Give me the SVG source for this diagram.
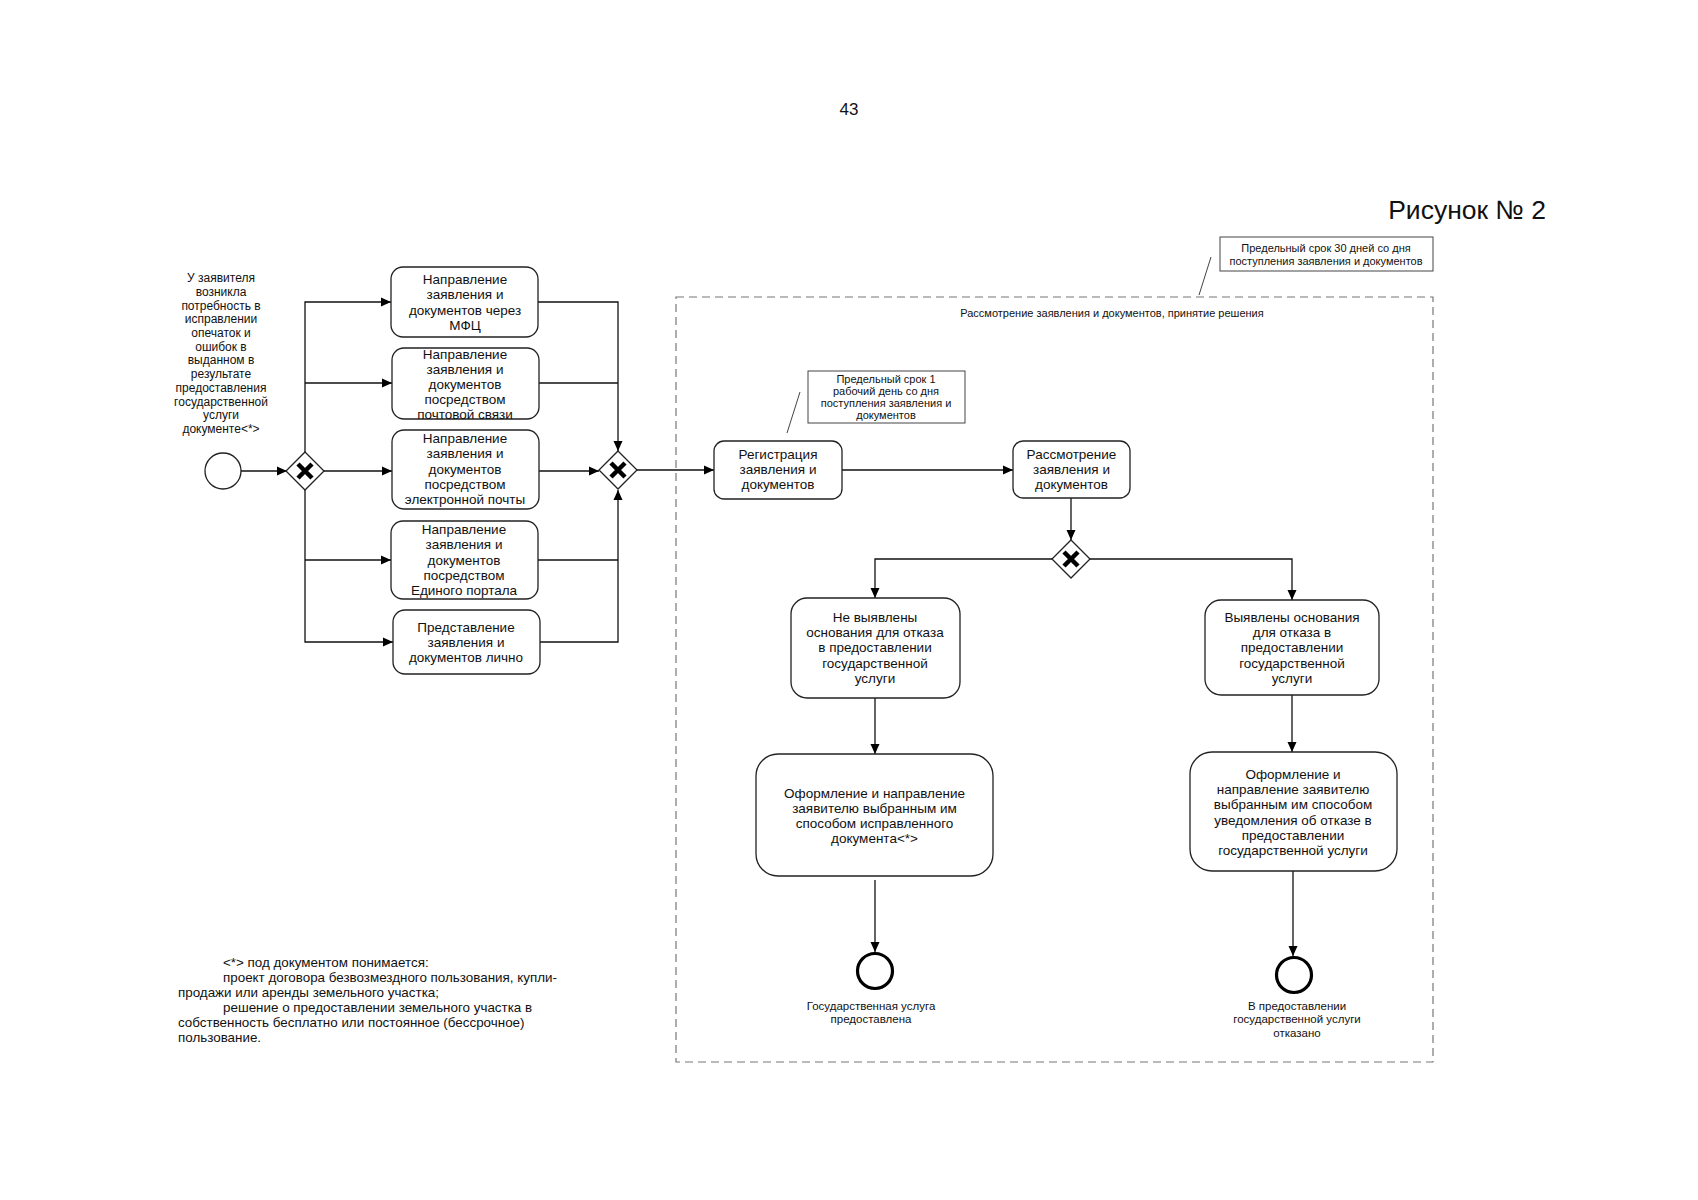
<svg xmlns="http://www.w3.org/2000/svg" width="1698" height="1200" viewBox="0 0 1698 1200">
<style>
text{font-family:"Liberation Sans",Arial,sans-serif;fill:#111}
.t{font-size:13.5px;text-anchor:middle}
.s{font-size:11px;text-anchor:middle}
.l{font-size:12px;text-anchor:middle}
.f{font-size:13.4px}
.box{fill:#fff;stroke:#222;stroke-width:1.3}
.gw{fill:#fff;stroke:#222;stroke-width:1.3}
.x{stroke:#000;stroke-width:4.5;stroke-linecap:butt}
.c{fill:none;stroke:#111;stroke-width:1.3}
.ann{fill:#fff;stroke:#444;stroke-width:1}
</style>
<defs>
<marker id="arr" viewBox="0 0 10 10" refX="10" refY="5" markerWidth="11" markerHeight="10" markerUnits="userSpaceOnUse" orient="auto"><path d="M0,0.5 L10,5 L0,9.5 z" fill="#000"/></marker>
</defs>
<rect width="1698" height="1200" fill="#fff"/>
<text x="849" y="115" style="font-size:17px;text-anchor:middle">43</text>
<text x="1546" y="219" style="font-size:26.5px;text-anchor:end">Рисунок № 2</text>

<g id="container">
<rect x="676" y="297" width="757" height="765" fill="none" stroke="#777" stroke-width="1.2" stroke-dasharray="8 5"/>
<text class="s" x="1112" y="317">Рассмотрение заявления и документов, принятие решения</text>
</g>

<g id="connectors">
<path class="c" d="M241,471 H287" marker-end="url(#arr)"/>
<path class="c" d="M305,452 V302 H391" marker-end="url(#arr)"/>
<path class="c" d="M305,383 H392" marker-end="url(#arr)"/>
<path class="c" d="M324,471 H392" marker-end="url(#arr)"/>
<path class="c" d="M305,490 V642 H393" marker-end="url(#arr)"/>
<path class="c" d="M305,560 H391" marker-end="url(#arr)"/>
<path class="c" d="M538,302 H618 V451" marker-end="url(#arr)"/>
<path class="c" d="M539,383 H618"/>
<path class="c" d="M539,471 H599" marker-end="url(#arr)"/>
<path class="c" d="M538,560 H618"/>
<path class="c" d="M540,642 H618 V490" marker-end="url(#arr)"/>
<path class="c" d="M637,470 H714" marker-end="url(#arr)"/>
<path class="c" d="M842,470 H1013" marker-end="url(#arr)"/>
<path class="c" d="M1071,498 V540" marker-end="url(#arr)"/>
<path class="c" d="M1052,559 H875 V598" marker-end="url(#arr)"/>
<path class="c" d="M1090,559 H1292 V600" marker-end="url(#arr)"/>
<path class="c" d="M875,698 V754" marker-end="url(#arr)"/>
<path class="c" d="M1292,695 V752" marker-end="url(#arr)"/>
<path class="c" d="M875,880 V952" marker-end="url(#arr)"/>
<path class="c" d="M1293,871 V956" marker-end="url(#arr)"/>
<path d="M1211,257 L1199,295" stroke="#444" stroke-width="1" fill="none"/>
<path d="M800,392 L787,433" stroke="#444" stroke-width="1" fill="none"/>
</g>

<g id="start-label">
<text class="l" x="221" y="282">У заявителя</text>
<text class="l" x="221" y="296">возникла</text>
<text class="l" x="221" y="310">потребность в</text>
<text class="l" x="221" y="323">исправлении</text>
<text class="l" x="221" y="337">опечаток и</text>
<text class="l" x="221" y="351">ошибок в</text>
<text class="l" x="221" y="364">выданном в</text>
<text class="l" x="221" y="378">результате</text>
<text class="l" x="221" y="392">предоставления</text>
<text class="l" x="221" y="406">государственной</text>
<text class="l" x="221" y="419">услуги</text>
<text class="l" x="221" y="433">документе&lt;*&gt;</text>
</g>

<g id="start"><circle cx="223" cy="471" r="18" fill="#fff" stroke="#222" stroke-width="1.3"/></g>

<g id="gw1"><path class="gw" d="M305,452 L324,471 L305,490 L286,471 z"/><path class="x" d="M298,464 L312,478 M312,464 L298,478"/></g>

<g id="n1"><rect class="box" x="391" y="267" width="147" height="70" rx="12"/>
<text class="t"><tspan x="465" y="284">Направление</tspan><tspan x="465" y="299">заявления и</tspan><tspan x="465" y="314.5">документов через</tspan><tspan x="465" y="330">МФЦ</tspan></text></g>

<g id="n2"><rect class="box" x="392" y="348" width="147" height="71" rx="12"/>
<text class="t"><tspan x="465" y="359">Направление</tspan><tspan x="465" y="374">заявления и</tspan><tspan x="465" y="389">документов</tspan><tspan x="465" y="404">посредством</tspan><tspan x="465" y="419">почтовой связи</tspan></text></g>

<g id="n3"><rect class="box" x="392" y="430" width="147" height="79" rx="12"/>
<text class="t"><tspan x="465" y="443">Направление</tspan><tspan x="465" y="458">заявления и</tspan><tspan x="465" y="473.5">документов</tspan><tspan x="465" y="488.5">посредством</tspan><tspan x="465" y="503.5">электронной почты</tspan></text></g>

<g id="n4"><rect class="box" x="391" y="521" width="147" height="78" rx="12"/>
<text class="t"><tspan x="464" y="534">Направление</tspan><tspan x="464" y="549">заявления и</tspan><tspan x="464" y="564.5">документов</tspan><tspan x="464" y="579.5">посредством</tspan><tspan x="464" y="594.5">Единого портала</tspan></text></g>

<g id="n5"><rect class="box" x="393" y="610" width="147" height="64" rx="12"/>
<text class="t"><tspan x="466" y="631.5">Представление</tspan><tspan x="466" y="646.5">заявления и</tspan><tspan x="466" y="662">документов лично</tspan></text></g>

<g id="gw2"><path class="gw" d="M618,451 L637,470 L618,489 L599,470 z"/><path class="x" d="M611,463 L625,477 M625,463 L611,477"/></g>

<g id="annot2"><rect class="ann" x="1220" y="237" width="213" height="34"/>
<text class="s"><tspan x="1326" y="252">Предельный срок 30 дней со дня</tspan><tspan x="1326" y="265">поступления заявления и документов</tspan></text></g>

<g id="annot1"><rect class="ann" x="808" y="371" width="157" height="52"/>
<text class="s"><tspan x="886" y="383">Предельный срок 1</tspan><tspan x="886" y="395">рабочий день со дня</tspan><tspan x="886" y="407">поступления заявления и</tspan><tspan x="886" y="419">документов</tspan></text></g>

<g id="reg"><rect class="box" x="714" y="441" width="128" height="58" rx="10"/>
<text class="t"><tspan x="778" y="458.5">Регистрация</tspan><tspan x="778" y="473.5">заявления и</tspan><tspan x="778" y="488.5">документов</tspan></text></g>

<g id="review"><rect class="box" x="1013" y="441" width="117" height="57" rx="10"/>
<text class="t"><tspan x="1071.5" y="458.5">Рассмотрение</tspan><tspan x="1071.5" y="473.5">заявления и</tspan><tspan x="1071.5" y="488.5">документов</tspan></text></g>

<g id="gw3"><path class="gw" d="M1071,540 L1090,559 L1071,578 L1052,559 z"/><path class="x" d="M1064,552 L1078,566 M1078,552 L1064,566"/></g>

<g id="noref"><rect class="box" x="791" y="598" width="169" height="100" rx="16"/>
<text class="t"><tspan x="875" y="621.5">Не выявлены</tspan><tspan x="875" y="637">основания для отказа</tspan><tspan x="875" y="652">в предоставлении</tspan><tspan x="875" y="667.5">государственной</tspan><tspan x="875" y="682.5">услуги</tspan></text></g>

<g id="ref"><rect class="box" x="1205" y="600" width="174" height="95" rx="16"/>
<text class="t"><tspan x="1292" y="621.5">Выявлены основания</tspan><tspan x="1292" y="637">для отказа в</tspan><tspan x="1292" y="652">предоставлении</tspan><tspan x="1292" y="667.5">государственной</tspan><tspan x="1292" y="682.5">услуги</tspan></text></g>

<g id="issue"><rect class="box" x="756" y="754" width="237" height="122" rx="22"/>
<text class="t"><tspan x="874.5" y="797.5">Оформление и направление</tspan><tspan x="874.5" y="812.5">заявителю выбранным им</tspan><tspan x="874.5" y="827.5">способом исправленного</tspan><tspan x="874.5" y="842.5">документа&lt;*&gt;</tspan></text></g>

<g id="refuse"><rect class="box" x="1190" y="752" width="207" height="119" rx="22"/>
<text class="t"><tspan x="1293" y="778.5">Оформление и</tspan><tspan x="1293" y="794">направление заявителю</tspan><tspan x="1293" y="809">выбранным им способом</tspan><tspan x="1293" y="824.5">уведомления об отказе в</tspan><tspan x="1293" y="839.5">предоставлении</tspan><tspan x="1293" y="854.5">государственной услуги</tspan></text></g>

<g id="end1"><circle cx="875" cy="971" r="17.5" fill="#fff" stroke="#000" stroke-width="3.2"/>
<text class="s" style="font-size:11.5px"><tspan x="871" y="1010">Государственная услуга</tspan><tspan x="871" y="1023">предоставлена</tspan></text></g>

<g id="end2"><circle cx="1294" cy="975" r="17.5" fill="#fff" stroke="#000" stroke-width="3.2"/>
<text class="s" style="font-size:11.5px"><tspan x="1297" y="1010">В предоставлении</tspan><tspan x="1297" y="1023">государственной услуги</tspan><tspan x="1297" y="1037">отказано</tspan></text></g>

<g id="footnote">
<text class="f" x="223" y="967">&lt;*&gt; под документом понимается:</text>
<text class="f" x="223" y="981.5">проект договора безвозмездного пользования, купли-</text>
<text class="f" x="178" y="996.5">продажи или аренды земельного участка;</text>
<text class="f" x="223" y="1011.5">решение о предоставлении земельного участка в</text>
<text class="f" x="178" y="1026.5">собственность бесплатно или постоянное (бессрочное)</text>
<text class="f" x="178" y="1042">пользование.</text>
</g>
</svg>
